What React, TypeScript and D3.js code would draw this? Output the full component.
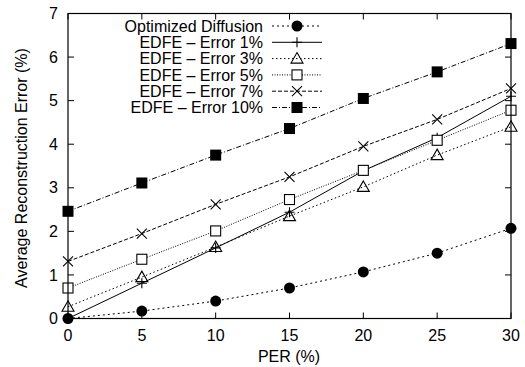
import React from 'react';
import * as d3 from 'd3';

const per = [0, 5, 10, 15, 20, 25, 30];
const optimized = [0, 0.17, 0.4, 0.7, 1.07, 1.5, 2.07];
const edfe1 = [0, 0.81, 1.62, 2.44, 3.39, 4.15, 5.1];
const edfe3 = [0.27, 0.95, 1.64, 2.35, 3.02, 3.75, 4.4];
const edfe5 = [0.7, 1.36, 2.01, 2.73, 3.4, 4.09, 4.78];
const edfe7 = [1.31, 1.95, 2.62, 3.25, 3.95, 4.57, 5.28];
const edfe10 = [2.46, 3.11, 3.75, 4.36, 5.05, 5.66, 6.31];

const xTicks = [0, 5, 10, 15, 20, 25, 30];
const yTicks = [0, 1, 2, 3, 4, 5, 6, 7];

const series = [
  { name: 'Optimized Diffusion', values: optimized, marker: 'circle', dash: '2,3' },
  { name: 'EDFE \u2013 Error 1%', values: edfe1, marker: 'plus', dash: '' },
  { name: 'EDFE \u2013 Error 3%', values: edfe3, marker: 'triangle', dash: '1.5,2.5' },
  { name: 'EDFE \u2013 Error 5%', values: edfe5, marker: 'square', dash: '1,1.5' },
  { name: 'EDFE \u2013 Error 7%', values: edfe7, marker: 'cross', dash: '4,2' },
  { name: 'EDFE \u2013 Error 10%', values: edfe10, marker: 'fsquare', dash: '5,2,1,2' },
];

const W = 525;
const H = 367;
const left = 68;
const right = 511;
const top = 13.5;
const bottom = 318.5;
const font = '"Liberation Sans", Arial, sans-serif';
const fs = 16;

const Marker = ({ type, x, y }: { type: string; x: number; y: number }) => {
  const s = 5;
  switch (type) {
    case 'circle':
      return <circle cx={x} cy={y} r={5.5} fill="#000" />;
    case 'plus':
      return <path d={`M${x - s},${y}H${x + s}M${x},${y - s}V${y + s}`} stroke="#000" strokeWidth={1.1} />;
    case 'triangle':
      return <path d={`M${x},${y - 6}L${x + 6},${y + 4.5}L${x - 6},${y + 4.5}Z`} fill="none" stroke="#000" strokeWidth={1.1} />;
    case 'square':
      return <rect x={x - 5} y={y - 5} width={10} height={10} fill="#fff" stroke="#000" strokeWidth={1.1} />;
    case 'cross':
      return <path d={`M${x - s},${y - s}L${x + s},${y + s}M${x - s},${y + s}L${x + s},${y - s}`} stroke="#000" strokeWidth={1.1} />;
    default:
      return <rect x={x - 5.5} y={y - 5.5} width={11} height={11} fill="#000" />;
  }
};

export default function App() {
  const x = d3.scaleLinear().domain([0, 30]).range([left, right]);
  const y = d3.scaleLinear().domain([0, 7]).range([bottom, top]);
  const line = d3.line<number>().x((_, i) => x(per[i])).y((d) => y(d));

  const legendY = (i: number) => 26 + i * 16.3;

  return (
    <svg width={W} height={H} style={{ position: 'absolute', left: 0, top: 0 }} fontFamily={font}>
      <rect width={W} height={H} fill="#fff" />
      {xTicks.map((t) => (
        <g key={'x' + t}>
          <line x1={x(t)} x2={x(t)} y1={bottom} y2={bottom - 6} stroke="#000" />
          <line x1={x(t)} x2={x(t)} y1={top} y2={top + 6} stroke="#000" />
          <text x={x(t)} y={341} textAnchor="middle" fontSize={fs}>{t}</text>
        </g>
      ))}
      {yTicks.map((t) => (
        <g key={'y' + t}>
          <line x1={left} x2={left + 6} y1={y(t)} y2={y(t)} stroke="#000" />
          <line x1={right} x2={right - 6} y1={y(t)} y2={y(t)} stroke="#000" />
          <text x={58} y={y(t) + 5.7} textAnchor="end" fontSize={fs}>{t}</text>
        </g>
      ))}
      {series.map((s) => (
        <g key={s.name}>
          <path d={line(s.values) || ''} fill="none" stroke="#000" strokeWidth={1} strokeDasharray={s.dash} />
          {s.values.map((v, i) => (
            <Marker key={i} type={s.marker} x={x(per[i])} y={y(v)} />
          ))}
        </g>
      ))}
      {series.map((s, i) => (
        <g key={'l' + s.name}>
          <text x={263} y={legendY(i) + 5.7} textAnchor="end" fontSize={fs}>{s.name}</text>
          <line x1={272} x2={322} y1={legendY(i)} y2={legendY(i)} stroke="#000" strokeDasharray={s.dash} />
          <Marker type={s.marker} x={297} y={legendY(i)} />
        </g>
      ))}
      <rect x={left} y={top} width={right - left} height={bottom - top} fill="none" stroke="#000" strokeWidth={1.2} />
      <text x={289} y={362} textAnchor="middle" fontSize={fs}>PER (%)</text>
      <text transform={`translate(27,${(top + bottom) / 2 + 2}) rotate(-90)`} textAnchor="middle" fontSize={fs}>
        Average Reconstruction Error (%)
      </text>
    </svg>
  );
}
